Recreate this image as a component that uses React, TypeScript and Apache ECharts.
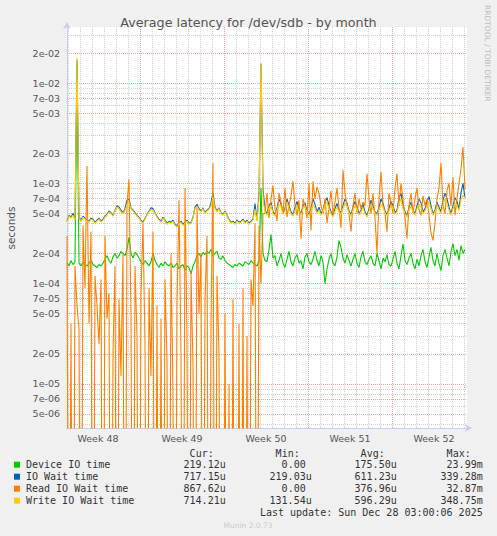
import React, { useEffect, useRef } from 'react';
import * as echarts from 'echarts';

// samples are 4h apart, values in microseconds (0 = idle)
const startTime = Date.UTC(2025, 10, 24, 22);
const stepMs = 4 * 3600 * 1000;
const endTime = startTime + 800 * 3600 * 1000;

const yMin = 3.63e-6;
const yMax = 3.63e-2;

const weekLabels = ['Week 48', 'Week 49', 'Week 50', 'Week 51', 'Week 52'];
const weekMids = [
  Date.UTC(2025, 10, 27, 12),
  Date.UTC(2025, 11, 4, 12),
  Date.UTC(2025, 11, 11, 12),
  Date.UTC(2025, 11, 18, 12),
  Date.UTC(2025, 11, 25, 12)
];
const weekStarts = [
  Date.UTC(2025, 11, 1),
  Date.UTC(2025, 11, 8),
  Date.UTC(2025, 11, 15),
  Date.UTC(2025, 11, 22)
];
const majorMantissas = [1, 2, 5, 7];

const deviceIo = [
  160, 150, 170, 155, 165, 15000, 160, 150, 165, 155,
  150, 160, 170, 155, 150, 145, 155, 150, 160, 175,
  190, 170, 160, 185, 200, 180, 190, 210, 200, 190,
  220, 290, 200, 180, 205, 195, 180, 165, 155, 170,
  160, 150, 165, 200, 170, 155, 145, 160, 150, 165,
  155, 150, 160, 145, 150, 160, 140, 150, 155, 135,
  150, 145, 125, 150, 165, 190, 200, 185, 205, 195,
  210, 200, 220, 190, 200, 210, 180, 175, 190, 170,
  160, 155, 150, 145, 155, 150, 160, 155, 150, 165,
  160, 155, 170, 160, 155, 150, 170, 900, 200,
  170, 165, 220, 310, 180, 190, 150, 170, 200, 160,
  145, 175, 210, 165, 150, 180, 195, 160, 170, 140,
  185, 200, 165, 155, 175, 210, 170, 150, 190, 165,
  100, 140, 175, 200, 160, 150, 185, 270, 230, 180,
  160, 195, 170, 150, 175, 200, 160, 145, 185, 210,
  165, 155, 175, 190, 160, 150, 200, 170, 140, 180,
  165, 195, 155, 150, 175, 210, 160, 140, 190, 250,
  170, 155, 180, 200, 160, 140, 175, 150, 190, 220,
  165, 145, 185, 230, 170, 150, 200, 160, 135, 190,
  220, 180, 150, 210, 250, 190, 220, 170, 240, 200,
  219
];

const ioWait = [
  420, 480, 460, 500, 440, 17000, 460, 430, 470, 450,
  430, 420, 450, 440, 410, 430, 450, 420, 440, 470,
  490, 530, 510, 480, 540, 600, 580, 540, 510, 560,
  680, 700, 570, 540, 510, 480, 460, 430, 410, 450,
  490, 530, 570, 560, 510, 470, 440, 420, 460, 430,
  400, 420, 410, 430, 390, 380, 400, 420, 390, 410,
  430, 400, 410, 460, 580, 620, 560, 530, 570, 510,
  540, 560, 640, 800, 580, 530, 570, 510, 490, 530,
  480, 440, 410, 420, 400, 430, 410, 420, 440, 410,
  430, 400, 420, 440, 630, 430, 800, 15500, 900,
  540, 500, 600, 650, 520, 490, 570, 700, 620, 510,
  560, 700, 600, 520, 490, 580, 660, 540, 500, 600,
  640, 530, 490, 560, 700, 620, 520, 580, 500, 540,
  650, 720, 600, 520, 480, 560, 630, 540, 510, 600,
  700, 640, 530, 490, 580, 660, 590, 500, 540, 620,
  520, 480, 560, 680, 600, 520, 500, 580, 700, 630,
  530, 490, 560, 660, 600, 510, 540, 720, 800, 600,
  520, 480, 580, 650, 540, 500, 600, 700, 640, 520,
  560, 660, 740, 600, 500, 540, 650, 580, 520, 680,
  800, 700, 580, 500, 600, 720, 660, 560, 800, 1000,
  717
];

const readWait = [
  300, 0, 40, 0, 150, 60, 35, 0, 380, 90,
  1500, 40, 330, 0, 120, 60, 25, 110, 0, 300,
  45, 80, 0, 20, 150, 0, 70, 12, 200, 0,
  620, 1100, 50, 0, 150, 30, 0, 80, 400, 25,
  0, 90, 12, 330, 0, 60, 0, 45, 0, 110,
  18, 0, 200, 8, 0, 60, 680, 20, 0, 900,
  30, 0, 130, 15, 0, 590, 50, 200, 0, 70,
  300, 0, 40, 1600, 0, 120, 20, 0, 0, 50,
  0, 10, 0, 70, 0, 0, 40, 0, 90, 0,
  30, 0, 110, 60, 400, 0, 380, 100, 500,
  500, 800, 450, 700, 950, 560, 420, 800, 650, 500,
  900, 460, 600, 750, 1050, 600, 480, 680, 280, 700,
  600, 450, 1000, 340, 1050, 700, 920, 800, 600, 500,
  700, 400, 560, 850, 500, 650, 900, 560, 360, 1350,
  800, 600, 500, 330, 600, 800, 500, 700, 560, 650,
  600, 1250, 700, 500, 800, 450, 200, 700, 1300, 600,
  500, 330, 800, 650, 500, 900, 1250, 600, 1000, 700,
  450, 280, 600, 800, 500, 700, 900, 550, 480, 750,
  600, 700, 480, 320, 270, 400, 700, 900, 1600, 600,
  500, 850, 1000, 600, 1150, 480, 700, 1000, 1400, 2300,
  868
];

const writeWait = [
  410, 470, 450, 480, 430, 17800, 450, 420, 460, 440,
  420, 410, 440, 430, 400, 420, 440, 410, 430, 460,
  480, 520, 500, 470, 530, 580, 560, 520, 500, 540,
  600, 650, 560, 530, 500, 470, 450, 420, 400, 440,
  480, 520, 550, 540, 500, 460, 430, 410, 450, 420,
  390, 410, 400, 420, 380, 370, 390, 410, 380, 400,
  420, 390, 400, 450, 560, 590, 540, 520, 560, 500,
  530, 550, 600, 720, 560, 520, 560, 500, 480, 520,
  470, 430, 400, 410, 390, 420, 400, 410, 430, 400,
  420, 390, 410, 430, 550, 420, 700, 16000, 700,
  520, 480, 560, 610, 500, 470, 540, 620, 580, 490,
  530, 650, 560, 500, 470, 540, 600, 520, 480, 560,
  590, 510, 470, 530, 620, 570, 500, 540, 480, 520,
  600, 650, 560, 500, 460, 530, 580, 520, 490, 560,
  640, 590, 510, 470, 540, 600, 550, 480, 520, 570,
  500, 460, 530, 610, 560, 500, 480, 540, 620, 580,
  510, 470, 530, 600, 560, 490, 520, 640, 700, 560,
  500, 460, 540, 590, 520, 480, 560, 620, 580, 500,
  530, 600, 650, 560, 480, 520, 590, 540, 500, 610,
  700, 620, 540, 480, 560, 640, 600, 530, 690, 760,
  714
];

const seriesNames = ['Device IO time', 'IO Wait time', 'Read IO Wait time', 'Write IO Wait time'];
const seriesColors = ['#00cc00', '#0066b3', '#ff8000', '#ffcc00'];
const curValues = ['219.12u', '717.15u', '867.62u', '714.21u'];
const minValues = ['0.00', '219.03u', '0.00', '131.54u'];
const avgValues = ['175.50u', '611.23u', '376.96u', '596.29u'];
const maxValues = ['23.99m', '339.28m', '32.87m', '348.75m'];

const SANS = 'DejaVu Sans';
const MONO = 'DejaVu Sans Mono';
const MAJOR_GRID = '#eda5a5';
const MINOR_GRID = '#cfcfcf';
const AXIS_COLOR = '#c6cff0';

const toPoints = (vals: number[]) =>
  vals.map((v, i) => [startTime + i * stepMs, v === 0 ? 1e-9 : v * 1e-6]);

const fmtExp = (v: number) => v.toExponential(0).replace(/e([+-])(\d)$/, 'e$10$2');

// grid lines live on a hidden linear axis that spans the log axis in decades
function gridLines() {
  const lines: any[] = [];
  for (let e = -6; e <= -2; e++) {
    for (let m = 1; m <= 9; m++) {
      const v = m * Math.pow(10, e);
      if (v < yMin || v > yMax) continue;
      const major = majorMantissas.includes(m);
      lines.push({
        yAxis: Math.log10(v),
        lineStyle: { color: major ? MAJOR_GRID : MINOR_GRID, type: [1, 1], width: 1 },
        label: {
          show: major,
          position: 'start',
          distance: 7,
          formatter: fmtExp(v),
          color: '#555',
          fontSize: 9.5,
          fontFamily: SANS
        }
      });
    }
  }
  const day = 24 * 3600 * 1000;
  for (let t = Date.UTC(2025, 10, 25); t < endTime; t += day) {
    const major = weekStarts.includes(t);
    lines.push({
      xAxis: t,
      lineStyle: { color: major ? MAJOR_GRID : MINOR_GRID, type: [1, 1], width: 1 },
      label: { show: false }
    });
  }
  return lines;
}

function legendTable() {
  const els: any[] = [];
  const txt = (text: string, x: number, y: number, align: string) => ({
    type: 'text',
    x,
    y,
    silent: true,
    style: {
      text,
      fill: '#333',
      font: `10px "${MONO}"`,
      textAlign: align,
      textVerticalAlign: 'middle',
      align,
      verticalAlign: 'middle'
    }
  });
  const colEdges = [225.7, 311.7, 396.7, 482.7];
  const headers = ['Cur:', 'Min:', 'Avg:', 'Max:'];
  headers.forEach((h, c) => els.push(txt(h, colEdges[c] - 12, 453, 'right')));
  const cols = [curValues, minValues, avgValues, maxValues];
  seriesNames.forEach((name, r) => {
    const y = 464.7 + r * 12;
    els.push({
      type: 'rect',
      silent: true,
      shape: { x: 14, y: y - 3, width: 6, height: 6 },
      style: { fill: seriesColors[r] }
    });
    els.push(txt(name, 26, y, 'left'));
    cols.forEach((col, c) => {
      const v = col[r];
      const shift = /[a-z]$/.test(v) ? 0 : 6;
      els.push(txt(v, colEdges[c] - shift, y, 'right'));
    });
  });
  els.push(txt('Last update: Sun Dec 28 03:00:06 2025', 482.7, 512.3, 'right'));
  return els;
}

function buildOption(): any {
  const lineSeries = [deviceIo, ioWait, readWait, writeWait].map((vals, idx) => ({
    name: seriesNames[idx],
    type: 'line',
    yAxisIndex: 0,
    data: toPoints(vals),
    showSymbol: false,
    symbol: 'none',
    clip: true,
    z: 3 + idx,
    lineStyle: { color: seriesColors[idx], width: 1.1 },
    itemStyle: { color: seriesColors[idx] }
  }));

  const axisLine = {
    show: true,
    lineStyle: { color: AXIS_COLOR, width: 1 },
    symbol: ['none', 'arrow'],
    symbolSize: [6, 7],
    symbolOffset: [0, 5]
  };

  return {
    animation: false,
    backgroundColor: '#f0f0f0',
    textStyle: { fontFamily: SANS },
    title: {
      text: 'Average latency for /dev/sdb - by month',
      left: 'center',
      top: 11,
      textStyle: { fontSize: 12.7, fontWeight: 'normal', color: '#555', fontFamily: SANS }
    },
    grid: {
      left: 67,
      right: 30,
      top: 27,
      bottom: 108,
      show: true,
      backgroundColor: '#ffffff',
      borderWidth: 0
    },
    xAxis: {
      type: 'value',
      min: startTime,
      max: endTime,
      splitLine: { show: false },
      axisTick: { show: false },
      axisLine,
      axisLabel: {
        customValues: weekMids,
        color: '#555',
        fontSize: 9.5,
        fontFamily: SANS,
        margin: 5,
        formatter: (v: number) => {
          let best = 0;
          weekMids.forEach((m, i) => {
            if (Math.abs(m - v) < Math.abs(weekMids[best] - v)) best = i;
          });
          return weekLabels[best];
        }
      }
    },
    yAxis: [
      {
        type: 'log',
        logBase: 10,
        min: yMin,
        max: yMax,
        splitLine: { show: false },
        axisTick: { show: false },
        axisLabel: { show: false },
        axisLine
      },
      {
        type: 'value',
        show: false,
        min: Math.log10(yMin),
        max: Math.log10(yMax),
        splitLine: { show: false }
      }
    ],
    series: [
      {
        type: 'line',
        yAxisIndex: 1,
        data: [],
        z: 1,
        silent: true,
        markLine: {
          silent: true,
          animation: false,
          z: 1,
          symbol: ['none', 'none'],
          data: gridLines()
        }
      },
      ...lineSeries
    ],
    graphic: [
      {
        type: 'text',
        x: 487,
        y: 5,
        rotation: -Math.PI / 2,
        silent: true,
        style: {
          text: 'RRDTOOL / TOBI OETIKER',
          fill: '#bbbbbb',
          font: `7.5px "${SANS}"`,
          textAlign: 'left',
          textVerticalAlign: 'middle',
          align: 'left',
          verticalAlign: 'middle'
        }
      },
      {
        type: 'text',
        x: 11,
        y: 228,
        rotation: Math.PI / 2,
        silent: true,
        style: {
          text: 'seconds',
          fill: '#555',
          font: `10.5px "${SANS}"`,
          textAlign: 'center',
          textVerticalAlign: 'middle',
          align: 'center',
          verticalAlign: 'middle'
        }
      },
      {
        type: 'text',
        x: 248,
        y: 525,
        silent: true,
        style: {
          text: 'Munin 2.0.73',
          fill: '#cccccc',
          font: `7.5px "${SANS}"`,
          textAlign: 'center',
          textVerticalAlign: 'middle',
          align: 'center',
          verticalAlign: 'middle'
        }
      },
      ...legendTable()
    ]
  };
}

export default function App() {
  const chartRef = useRef<HTMLDivElement>(null);

  useEffect(() => {
    if (!chartRef.current) return;
    const chart = echarts.init(chartRef.current, undefined, { renderer: 'svg' });
    chart.setOption(buildOption());
    return () => {
      chart.dispose();
    };
  }, []);

  return (
    <div
      ref={chartRef}
      style={{ position: 'fixed', left: 0, top: 0, width: 497, height: 536, background: '#f0f0f0' }}
    />
  );
}
